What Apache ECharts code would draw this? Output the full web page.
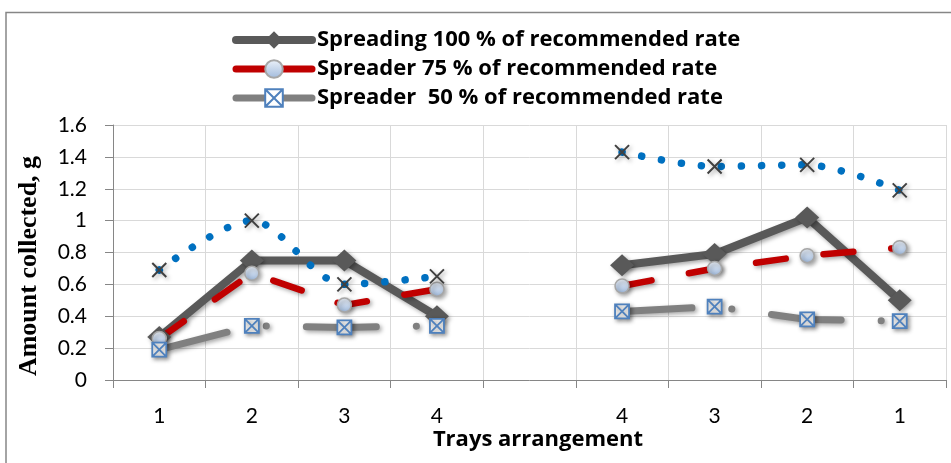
<!DOCTYPE html>
<html>
<head>
<meta charset="utf-8">
<script src="https://cdn.jsdelivr.net/npm/echarts@6/dist/echarts.min.js"></script>
<style>html,body{margin:0;padding:0;background:#fff}#c{width:951px;height:463px}</style>
</head>
<body>
<div id="c"></div>
<script>
const categories = ['1', '2', '3', '4', '', '4', '3', '2', '1'];
const rate100 = [0.27, 0.75, 0.75, 0.40, null, 0.72, 0.79, 1.02, 0.50];
const rate75 = [0.26, 0.67, 0.47, 0.57, null, 0.59, 0.70, 0.78, 0.83];
const rate50 = [0.19, 0.34, 0.33, 0.34, null, 0.43, 0.46, 0.38, 0.37];
const extra = [0.69, 1.00, 0.60, 0.65, null, 1.43, 1.34, 1.35, 1.19];
const yTicks = [0, 0.2, 0.4, 0.6, 0.8, 1, 1.2, 1.4, 1.6];
const names = ['Spreading 100 % of recommended rate', 'Spreader 75 % of recommended rate', 'Spreader  50 % of recommended rate'];

const FONT = 'Lato, "Open Sans", sans-serif';
const BFONT = '"Open Sans", Lato, sans-serif';
const shadow = {shadowColor: 'rgba(0,0,0,0.35)', shadowBlur: 4, shadowOffsetX: 2, shadowOffsetY: 2};

const chart = echarts.init(document.getElementById('c'));
chart.setOption({
  animation: false,
  backgroundColor: '#fff',
  graphic: [
    {type: 'rect', shape: {x: 6, y: 12.5, width: 970, height: 480}, style: {fill: 'none', stroke: '#868686', lineWidth: 1.5}, z: -1},
    {type: 'text', x: 29, y: 266, rotation: Math.PI / 2,
      style: {text: 'Amount collected, g', font: 'bold 26px "Liberation Serif", "Times New Roman", serif', fill: '#000', textAlign: 'center', textVerticalAlign: 'middle'}},
    {type: 'text', x: 538, y: 440,
      style: {text: 'Trays arrangement', font: 'bold 22px ' + BFONT, fill: '#000', textAlign: 'center', textVerticalAlign: 'middle'}}
  ],
  legend: {
    orient: 'vertical', left: 232, top: 29, padding: 0,
    itemWidth: 76, itemHeight: 22, itemGap: 7,
    textStyle: {fontFamily: BFONT, fontWeight: 'bold', fontSize: 22, color: '#000', lineHeight: 22},
    data: [
      {name: names[0], lineStyle: {type: 'solid', width: 8}},
      {name: names[1], lineStyle: {type: 'solid', width: 7}},
      {name: names[2], lineStyle: {type: 'solid', width: 7}}
    ]
  },
  grid: {left: 113, right: 5, top: 125, bottom: 83},
  xAxis: {
    type: 'category', data: categories, boundaryGap: true,
    axisLine: {lineStyle: {color: '#868686', width: 1}},
    axisTick: {show: true, interval: 0, length: 8, lineStyle: {color: '#868686'}},
    axisLabel: {interval: 0, margin: 26, fontFamily: FONT, fontSize: 21, color: '#000'},
    splitLine: {show: true, interval: 0, lineStyle: {color: '#d9d9d9', width: 1}}
  },
  yAxis: {
    type: 'value', min: yTicks[0], max: yTicks[yTicks.length - 1], interval: 0.2,
    axisLine: {show: true, lineStyle: {color: '#868686', width: 1}},
    axisTick: {show: true, length: 8, lineStyle: {color: '#868686'}},
    axisLabel: {margin: 26, fontFamily: FONT, fontSize: 21, color: '#000', formatter: v => String(+v.toFixed(1))},
    splitLine: {show: true, lineStyle: {color: '#d9d9d9', width: 1}}
  },
  series: [
    {
      name: names[0], type: 'line', data: rate100, connectNulls: false,
      symbol: 'diamond', symbolSize: [24, 22],
      lineStyle: Object.assign({color: '#595959', width: 8, cap: 'round', join: 'round'}, shadow),
      itemStyle: Object.assign({color: '#595959'}, shadow)
    },
    {
      name: names[1], type: 'line', data: rate75, connectNulls: false,
      symbol: 'circle', symbolSize: 14,
      lineStyle: Object.assign({color: '#C00000', width: 6.5, type: [30, 38], cap: 'round', join: 'round'}, shadow),
      itemStyle: Object.assign({
        color: new echarts.graphic.LinearGradient(0, 0, 0, 1, [{offset: 0, color: '#eef3fa'}, {offset: 1, color: '#9fb9dc'}]),
        borderColor: '#a6a6a6', borderWidth: 1.5
      }, shadow)
    },
    {
      name: names[2], type: 'line', data: rate50, connectNulls: false,
      symbol: 'path://M0,0L10,0L10,10L0,10Z M0,0L10,10 M10,0L0,10', symbolSize: 14,
      lineStyle: Object.assign({color: '#808080', width: 7, type: [70, 40, 0.1, 40], cap: 'round', join: 'round'}, shadow),
      itemStyle: Object.assign({color: '#ffffff', borderColor: '#4F81BD', borderWidth: 1.8}, shadow)
    },
    {
      name: 'extra', type: 'line', data: extra, connectNulls: false, smooth: 0.3,
      symbol: 'path://M0,0L10,10 M10,0L0,10', symbolSize: 14,
      lineStyle: {color: '#0070C0', width: 7.5, type: [0.1, 20], cap: 'round', join: 'round'},
      itemStyle: Object.assign({color: 'transparent', borderColor: '#404040', borderWidth: 2}, shadow)
    }
  ]
});
</script>
</body>
</html>
